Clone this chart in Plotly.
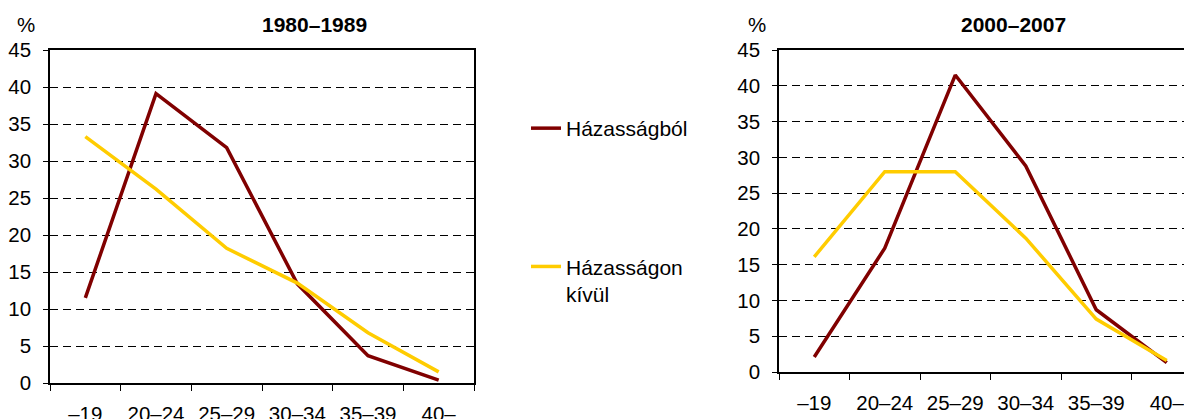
import plotly.graph_objects as go

# ---- data ----
age_groups = ["–19", "20–24", "25–29", "30–34", "35–39", "40–"]
marital_1980 = [11.5, 39.1, 31.8, 13.4, 3.7, 0.4]
nonmarital_1980 = [33.3, 26.2, 18.2, 13.5, 6.8, 1.5]
marital_2000 = [2.1, 17.3, 41.5, 28.8, 8.7, 1.3]
nonmarital_2000 = [16.1, 28.0, 28.0, 18.7, 7.4, 1.6]
series_names = ["Házasságból", "Házasságon<br>kívül"]
panel_titles = ["1980–1989", "2000–2007"]
y_ticks = [0, 5, 10, 15, 20, 25, 30, 35, 40, 45]

RED = "#800000"
YELLOW = "#FFCC00"
FONT = "Liberation Sans, Arial, sans-serif"
W, H = 1192, 419
FS = 21
OFF = 8  # page body margin

def px_x(p):
    return (p - OFF) / W

def px_y(p):
    return 1 - (p - OFF) / H

fig = go.Figure()
fig.add_trace(go.Scatter(x=age_groups, y=marital_1980, mode="lines", name=series_names[0],
                         line=dict(color=RED, width=3.5), xaxis="x", yaxis="y",
                         legendgroup="a"))
fig.add_trace(go.Scatter(x=age_groups, y=nonmarital_1980, mode="lines", name=series_names[1],
                         line=dict(color=YELLOW, width=3.5), xaxis="x", yaxis="y",
                         legendgroup="b"))
fig.add_trace(go.Scatter(x=age_groups, y=marital_2000, mode="lines", name=series_names[0],
                         line=dict(color=RED, width=3.5), xaxis="x2", yaxis="y2",
                         showlegend=False, legendgroup="a"))
fig.add_trace(go.Scatter(x=age_groups, y=nonmarital_2000, mode="lines", name=series_names[1],
                         line=dict(color=YELLOW, width=3.5), xaxis="x2", yaxis="y2",
                         showlegend=False, legendgroup="b"))

xcommon = dict(type="category", showgrid=False, showline=True, linecolor="black",
               linewidth=1.5, ticks="outside", tickson="boundaries", ticklen=6,
               tickcolor="black", tickwidth=1, ticklabelstandoff=12, automargin=False,
               tickfont=dict(size=20.5, color="black", family=FONT), zeroline=False,
               fixedrange=True)
ycommon = dict(range=[0, 45], tickvals=y_ticks, showgrid=True, gridcolor="black",
               gridwidth=1, griddash="8px,5px", showline=True, linecolor="black",
               linewidth=1.5, ticks="outside", ticklen=5, tickcolor="black", automargin=False,
               ticklabelstandoff=8, tickfont=dict(size=20.5, color="black", family=FONT),
               zeroline=False, fixedrange=True)

# right panel: category width 70.5 px, left edge 779, figure ends at screen x = W + OFF
right_end = (W + OFF - 779) / 70.5 - 0.5

def label(text, x, y, size, bold=False):
    return dict(text=("<b>" + text + "</b>") if bold else text, x=px_x(x), y=px_y(y),
                xref="paper", yref="paper", xanchor="center", yanchor="middle",
                showarrow=False, font=dict(size=size, family=FONT, color="black"))

fig.update_layout(
    width=W, height=H,
    margin=dict(l=0, r=0, t=0, b=0, autoexpand=False),
    paper_bgcolor="white", plot_bgcolor="white",
    font=dict(family=FONT, size=FS, color="black"),
    xaxis=dict(xcommon, domain=[px_x(50), px_x(474)], range=[-0.5, 5.5], mirror=True, anchor="y"),
    yaxis=dict(ycommon, domain=[px_y(383), px_y(50)], mirror=True, anchor="x"),
    xaxis2=dict(xcommon, domain=[px_x(779), 1.0], range=[-0.5, right_end], mirror=True, anchor="y2"),
    yaxis2=dict(ycommon, domain=[px_y(372), px_y(50)], mirror=False, anchor="x2"),
    legend=dict(x=px_x(526), y=px_y(108), xanchor="left", yanchor="top",
                font=dict(size=FS, family=FONT, color="black"),
                tracegroupgap=108, valign="top", bgcolor="rgba(0,0,0,0)"),
    showlegend=True,
    annotations=[
        label(panel_titles[0], 314, 25, 21, bold=True),
        label(panel_titles[1], 1013, 25, 21, bold=True),
        label("%", 26, 25, 20.5),
        label("%", 757, 25, 20.5),
    ],
)

fig.write_html("out.html")
